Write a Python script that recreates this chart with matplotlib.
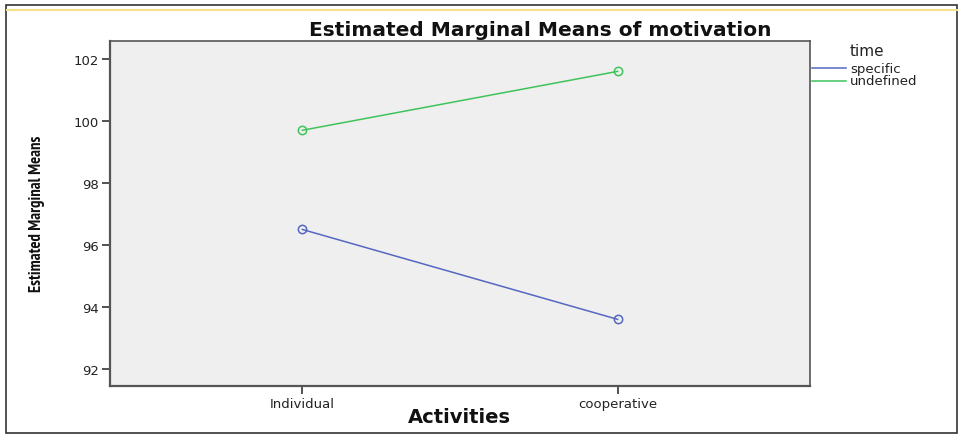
import matplotlib
matplotlib.use("Agg")
import matplotlib.pyplot as plt
from matplotlib import font_manager
from matplotlib.patches import Rectangle
from matplotlib.lines import Line2D

# data
activities = ["Individual", "cooperative"]
specific = [96.5, 93.6]
undefined = [99.7, 101.6]
yticks = [92, 94, 96, 98, 100, 102]

# condensed bold face for the y label (SPSS uses Arial Narrow there); pick deterministically
cands = [f for f in font_manager.fontManager.ttflist
         if ("Narrow" in f.name or "Condensed" in f.name or f.stretch in ("condensed", "semi-condensed"))
         and f.weight in (700, "bold") and "Oblique" not in f.fname and "Italic" not in f.fname]
cands.sort(key=lambda f: (0 if "Narrow" in f.name else 1,
                          0 if f.stretch == "condensed" else 1, f.name, f.fname))
narrow = cands[0].fname if cands else None

W, H = 961, 435
fig = plt.figure(figsize=(W / 100, H / 100), dpi=100)
fig.patch.set_facecolor("white")

# outer frame + yellow rule at the top
fig.add_artist(Rectangle((6 / W, 1 - 434 / H), 951 / W, 428 / H, transform=fig.transFigure,
                         fill=False, edgecolor="#333333", linewidth=1.2))
fig.add_artist(Line2D([7 / W, 957 / W], [1 - 11 / H, 1 - 11 / H], transform=fig.transFigure,
                      color="#f5e08a", linewidth=1.5))

ax = fig.add_axes([110 / W, 1 - 387 / H, 700 / W, 345 / H])
ax.set_facecolor("#efefef")

x = list(range(len(activities)))
blue = "#5467c1"
green = "#3fc45c"
ax.plot(x, specific, color=blue, linewidth=1.1, marker="o", markersize=6,
        markerfacecolor="none", markeredgecolor=blue, markeredgewidth=1.1)
ax.plot(x, undefined, color=green, linewidth=1.1, marker="o", markersize=6,
        markerfacecolor="none", markeredgecolor=green, markeredgewidth=1.1)

ax.set_xlim(-0.61, 1.61)
ax.set_ylim(91.45, 102.58)
ax.set_xticks(x)
ax.set_xticklabels(activities, fontsize=9.5, color="#222222")
ax.set_yticks(yticks)
ax.set_yticklabels([str(t) for t in yticks], fontsize=9.5, color="#222222")
ax.tick_params(axis="both", direction="out", length=6, width=1.2, color="#333333", pad=2)

for side in ["left", "bottom", "right", "top"]:
    ax.spines[side].set_color("#555555")
ax.spines["left"].set_linewidth(1.6)
ax.spines["bottom"].set_linewidth(1.6)
ax.spines["right"].set_linewidth(1.2)
ax.spines["top"].set_linewidth(1.2)

fig.text(540 / W, 1 - 30 / H, "Estimated Marginal Means of motivation", ha="center", va="center",
         fontsize=14.5, fontweight="bold", color="#111111")
fig.text(459 / W, 1 - 418 / H, "Activities", ha="center", va="center",
         fontsize=14, fontweight="bold", color="#111111")
if narrow:
    fig.text(37 / W, 1 - 214 / H, "Estimated Marginal Means", ha="center", va="center", rotation=90,
             fontproperties=font_manager.FontProperties(fname=narrow, size=12), color="#111111")
else:
    fig.text(37 / W, 1 - 214 / H, "Estimated Marginal Means", ha="center", va="center", rotation=90,
             fontsize=10, fontweight="bold", family="Liberation Sans", color="#111111")

# legend drawn by hand
fig.text(850 / W, 1 - 52 / H, "time", ha="left", va="center", fontsize=11, color="#222222")
for i, (name, col) in enumerate([("specific", blue), ("undefined", green)]):
    yy = 1 - (69 + i * 12.5) / H
    fig.add_artist(Line2D([812 / W, 846 / W], [yy, yy], transform=fig.transFigure,
                          color=col, linewidth=1.1))
    fig.text(850 / W, yy, name, ha="left", va="center", fontsize=9.5, color="#222222")

fig.savefig("out.png", dpi=100)
